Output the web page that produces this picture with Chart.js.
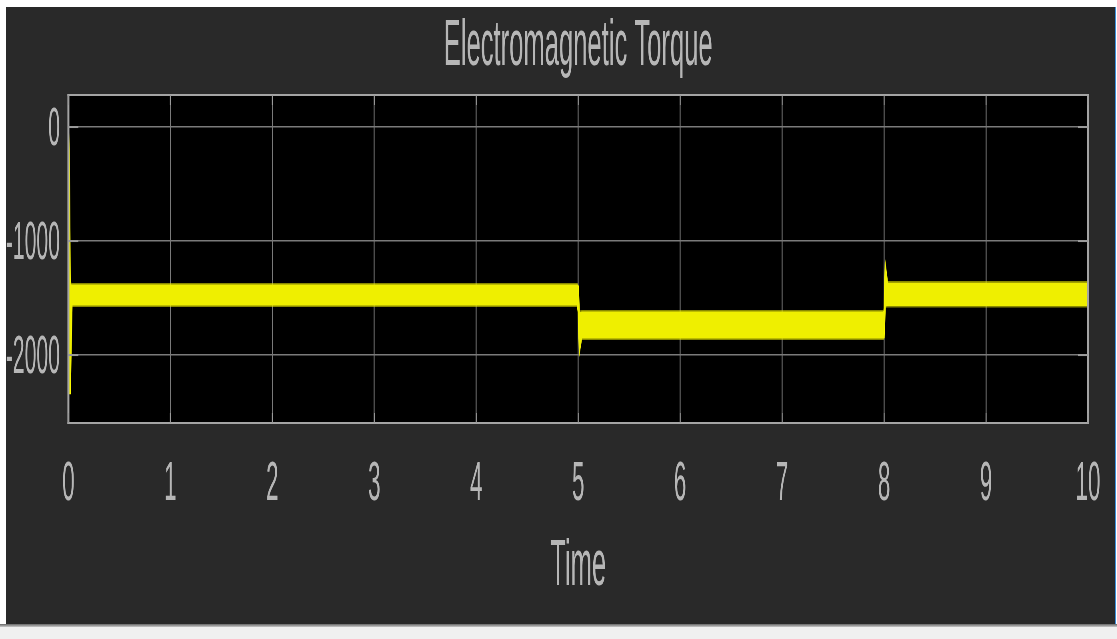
<!DOCTYPE html>
<html>
<head>
<meta charset="utf-8">
<script src="https://cdn.jsdelivr.net/npm/chart.js@4/dist/chart.umd.min.js"></script>
<style>
  html, body { margin: 0; padding: 0; background: #ffffff; width: 1117px; height: 639px; overflow: hidden; position: relative; }
  #fig { position: absolute; left: 6px; top: 7px; width: 1109px; height: 617px; background: #292929; overflow: hidden; }
  /* the scope window uses a tall, narrow typeface: the canvas is drawn wide and squeezed horizontally */
  #plot { position: absolute; left: 0; top: 0; transform: scaleX(0.4); transform-origin: 0 0; }
  #rim { position: absolute; left: 1115px; top: 7px; width: 1px; height: 617px; background: #3d8fdb; }
  #edge { position: absolute; left: 0; top: 624px; width: 1117px; height: 3px; background: linear-gradient(#666666, #c9c9c9); }
  #status { position: absolute; left: 0; top: 627px; width: 1117px; height: 12px; background: #f0f0f0; }
</style>
</head>
<body>
<div id="fig"><canvas id="plot" width="2773" height="617"></canvas></div>
<div id="rim"></div>
<div id="edge"></div>
<div id="status"></div>
<script>
// Electromagnetic torque (N·m) vs simulation time (s).
// The ripple band is described by its envelope at each breakpoint:
// core = solid part of the band, ripple = outer ragged edge.
const timeS      = [0, 0.008, 0.018, 0.035, 4.99, 5.0, 5.012, 5.035, 7.99, 8.0, 8.012, 8.035, 10];
const coreHigh   = [0, -200, -1390, -1395, -1395, -1400, -1640, -1632, -1632, -1620, -1210, -1378, -1378];
const coreLow    = [0, -2330, -2330, -1553, -1553, -1620, -1970, -1842, -1842, -1840, -1560, -1556, -1556];
const rippleHigh = [0, -180, -1362, -1368, -1368, -1375, -1610, -1605, -1605, -1595, -1190, -1350, -1350];
const rippleLow  = [0, -2340, -2340, -1579, -1579, -1645, -1982, -1868, -1868, -1866, -1585, -1583, -1583];

const xTicks = [0, 1, 2, 3, 4, 5, 6, 7, 8, 9, 10];
const yTicks = [-2000, -1000, 0];
const yMin = -2596;
const yMax = 281;

const textColor = '#b6b6b6';
const gridColor = '#7a7a7a';
const fontFamily = '"Liberation Sans", Arial, sans-serif';

const pts = ys => timeS.map((t, i) => ({ x: t, y: ys[i] }));

const plotBackground = {
  id: 'plotBackground',
  beforeDraw(chart) {
    const { ctx, chartArea: a } = chart;
    ctx.save();
    ctx.fillStyle = '#000000';
    ctx.fillRect(a.left, a.top, a.right - a.left, a.bottom - a.top);
    ctx.restore();
  }
};

const axesFrame = {
  id: 'axesFrame',
  afterDatasetsDraw(chart) {
    const { ctx, chartArea: a, scales } = chart;
    const vx = 5; // 2px after the horizontal squeeze
    ctx.save();
    ctx.fillStyle = '#a4a4a4';
    ctx.fillRect(a.left - vx / 2, a.top - 1, a.right - a.left + vx, 2);
    ctx.fillRect(a.left - vx / 2, a.bottom - 1, a.right - a.left + vx, 2);
    ctx.fillRect(a.left - vx / 2, a.top - 1, vx, a.bottom - a.top + 2);
    ctx.fillRect(a.right - vx / 2, a.top - 1, vx, a.bottom - a.top + 2);
    // inward tick marks
    ctx.fillStyle = '#9a9a9a';
    yTicks.forEach(v => {
      const py = scales.y.getPixelForValue(v);
      ctx.fillRect(a.left, py - 1, 25, 2);
      ctx.fillRect(a.right - 25, py - 1, 25, 2);
    });
    xTicks.forEach(v => {
      const px = scales.x.getPixelForValue(v);
      ctx.fillRect(px - 1.25, a.bottom - 10, 2.5, 10);
      ctx.fillRect(px - 1.25, a.top, 2.5, 10);
    });
    ctx.restore();
  }
};

new Chart(document.getElementById('plot'), {
  type: 'line',
  data: {
    datasets: [
      { data: pts(rippleHigh), fill: '+1', backgroundColor: 'rgba(228,228,0,0.6)', borderWidth: 0, pointRadius: 0 },
      { data: pts(rippleLow), fill: false, borderWidth: 0, pointRadius: 0 },
      { data: pts(coreHigh), fill: '+1', backgroundColor: '#ffff00', borderColor: '#ffff00', borderWidth: 3, pointRadius: 0 },
      { data: pts(coreLow), fill: false, borderColor: '#ffff00', borderWidth: 3, pointRadius: 0 }
    ]
  },
  options: {
    responsive: false,
    animation: false,
    events: [],
    layout: { padding: { left: 0, right: 68, top: 0, bottom: 0 } },
    elements: { line: { tension: 0 } },
    plugins: {
      legend: { display: false },
      tooltip: { enabled: false }
    },
    scales: {
      // top axis only carries the plot title, centred over the axes box
      top: {
        type: 'linear',
        position: 'top',
        min: 0,
        max: 10,
        afterFit: s => { s.height = 88; },
        ticks: { display: false },
        grid: { display: false, drawTicks: false },
        border: { display: false },
        title: {
          display: true,
          text: 'Electromagnetic Torque',
          color: textColor,
          font: { family: fontFamily, size: 64, weight: 'normal' },
          padding: { top: 1.5, bottom: 0 }
        }
      },
      x: {
        type: 'linear',
        position: 'bottom',
        min: 0,
        max: 10,
        afterFit: s => { s.height = 201; },
        afterBuildTicks: s => { s.ticks = xTicks.map(v => ({ value: v })); },
        ticks: {
          color: textColor,
          font: { family: fontFamily, size: 56 },
          padding: 28,
          maxRotation: 0,
          autoSkip: false,
          callback: v => String(v)
        },
        grid: { color: gridColor, lineWidth: 2.5, drawTicks: false },
        border: { display: false },
        title: {
          display: true,
          text: 'Time',
          color: textColor,
          font: { family: fontFamily, size: 64 },
          padding: { top: 0, bottom: 18.6 }
        }
      },
      y: {
        type: 'linear',
        min: yMin,
        max: yMax,
        afterFit: s => { s.width = 156; },
        afterBuildTicks: s => { s.ticks = yTicks.map(v => ({ value: v })); },
        ticks: {
          color: textColor,
          font: { family: fontFamily, size: 53 },
          padding: 21,
          labelOffset: 3,
          autoSkip: false,
          callback: v => String(v)
        },
        grid: { color: gridColor, lineWidth: 1.5, drawTicks: false },
        border: { display: false }
      }
    }
  },
  plugins: [plotBackground, axesFrame]
});
</script>
</body>
</html>
